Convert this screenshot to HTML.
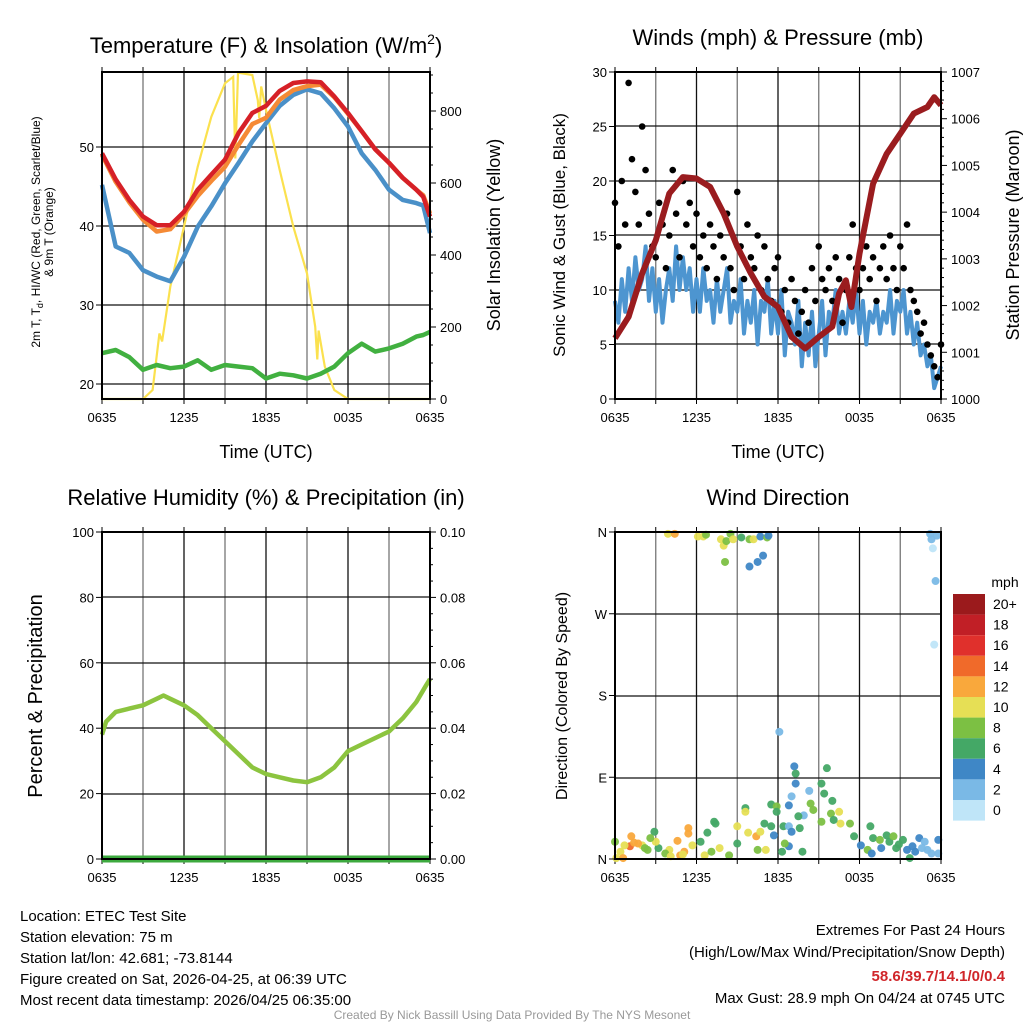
<!DOCTYPE html>
<html><head><meta charset="utf-8"><style>
html,body{margin:0;padding:0;background:#fff;}
svg{display:block;font-family:"Liberation Sans",sans-serif;}
</style></head><body>
<svg id="s" width="1024" height="1024" viewBox="0 0 1024 1024" xmlns="http://www.w3.org/2000/svg">
<rect width="1024" height="1024" fill="#fff"/>
<g id="g1"></g>
<g id="g2"></g>
<g id="g3"></g>
<g id="g4"></g>
<text x="266" y="53" font-size="22" text-anchor="middle">Temperature (F) &amp; Insolation (W/m<tspan font-size="14" dy="-9">2</tspan><tspan dy="9">)</tspan></text>
<text x="778" y="45" font-size="22" text-anchor="middle">Winds (mph) &amp; Pressure (mb)</text>
<text x="266" y="505" font-size="22" text-anchor="middle">Relative Humidity (%) &amp; Precipitation (in)</text>
<text x="778" y="505" font-size="22" text-anchor="middle">Wind Direction</text>
<g font-size="18" text-anchor="middle">
<text x="266" y="458">Time (UTC)</text>
<text x="778" y="458">Time (UTC)</text>
</g>
<text transform="translate(40,232) rotate(-90)" font-size="12" text-anchor="middle"><tspan x="0" dy="0">2m T, T<tspan font-size="9" dy="3">d</tspan><tspan dy="-3">, HI/WC (Red, Green, Scarlet/Blue)</tspan></tspan><tspan x="0" dy="13">&amp; 9m T (Orange)</tspan></text>
<text transform="translate(500,235) rotate(-90)" font-size="18" text-anchor="middle">Solar Insolation (Yellow)</text>
<text transform="translate(565,235) rotate(-90)" font-size="17" text-anchor="middle">Sonic Wind &amp; Gust (Blue, Black)</text>
<text transform="translate(1019,235) rotate(-90)" font-size="18" text-anchor="middle">Station Pressure (Maroon)</text>
<text transform="translate(42,696) rotate(-90)" font-size="20" text-anchor="middle">Percent &amp; Precipitation</text>
<text transform="translate(567,696) rotate(-90)" font-size="16" text-anchor="middle">Direction (Colored By Speed)</text>
<g font-size="15">
<text x="20" y="921">Location: ETEC Test Site</text>
<text x="20" y="942">Station elevation: 75 m</text>
<text x="20" y="963">Station lat/lon: 42.681; -73.8144</text>
<text x="20" y="984">Figure created on Sat, 2026-04-25, at 06:39 UTC</text>
<text x="20" y="1005">Most recent data timestamp: 2026/04/25 06:35:00</text>
</g>
<g font-size="15" text-anchor="end">
<text x="1005" y="935">Extremes For Past 24 Hours</text>
<text x="1005" y="957">(High/Low/Max Wind/Precipitation/Snow Depth)</text>
<text x="1005" y="981" fill="#d0262a" font-weight="bold">58.6/39.7/14.1/0/0.4</text>
<text x="1005" y="1003">Max Gust: 28.9 mph On 04/24 at 0745 UTC</text>
</g>
<text x="512" y="1019" font-size="12" fill="#999" text-anchor="middle">Created By Nick Bassill Using Data Provided By The NYS Mesonet</text>
</svg>
<script>
// ---- data ----
const hours = [0,1,2,3,4,5,6,7,8,9,10,11,12,13,14,15,16,17,18,19,20,21,22,23,23.5,24];
const tempRed = [49.2,45.9,43.3,41.2,40.1,40.1,41.8,44.6,46.5,48.4,51.8,54.3,55.2,57.1,58.1,58.3,58.2,56.4,54.3,52.0,49.7,48.0,46.1,44.6,43.7,41.2];
const tempOrange = [49.0,45.6,43.0,40.8,39.3,39.6,41.5,43.8,45.7,47.5,50.3,52.9,53.7,56.0,57.2,57.7,57.9,56.3,54.2,52.0,49.7,48.0,46.1,44.6,43.9,41.6];
const tempBlue = [45.2,37.4,36.6,34.4,33.6,33.0,36.1,39.9,42.5,45.4,48.0,50.7,53.0,55.2,56.6,57.3,56.8,54.9,52.6,49.2,47.1,44.6,43.3,42.9,42.6,39.1];
const dewGreen = [23.9,24.3,23.4,21.8,22.4,22.0,22.2,23.0,21.8,22.4,22.2,22.0,20.7,21.3,21.1,20.7,21.3,22.2,23.9,25.1,24.1,24.5,25.1,26.0,26.2,26.6];
const solarHours = [0,3,3.7,4.2,4.4,5,6,7,8,9,9.6,9.75,9.95,10,11,11.4,11.5,11.65,12,13,14,15,15.6,15.75,15.85,16.3,17,18,24];
const solarVals = [0,0,25,182,160,312,479,645,784,877,895,668,905,906,900,830,780,868,803,636,479,349,201,110,190,90,25,0,0];
const windSpeed = [9,7,11,8,12,9,13,10,11,14,9,12,8,11,7,10,12,9,14,10,13,10,12,8,11,8,12,9,10,7,11,8,10,12,7,9,8,11,6,9,7,10,5,9,8,11,6,9,6,10,4,8,7,5,9,3,7,4,8,3,6,9,4,8,7,10,6,8,6,9,7,10,6,9,5,8,7,9,6,8,7,10,6,9,8,10,6,8,5,7,4,5,3,4,1,2,3];
const pressHours = [0,1,2,3,4,5,6,7,8,9,10,11,12,13,14,15,16,16.5,17,17.4,18,19,20,21,22,23,23.5,24];
const pressure = [1001.30,1001.76,1002.69,1003.40,1004.40,1004.75,1004.72,1004.54,1003.97,1003.26,1002.69,1002.19,1001.97,1001.33,1001.08,1001.33,1001.55,1002.26,1002.54,1001.97,1003.11,1004.61,1005.25,1005.68,1006.11,1006.25,1006.46,1006.29];
const gusts = [18,14,20,16,29,22,19,16,25,21,17,14,13,18,16,12,15,21,17,13,20,16,18,14,17,13,15,12,16,14,11,15,13,17,12,10,19,14,11,16,13,12,15,10,14,11,9,12,13,8,10,7,11,9,6,8,10,7,12,9,14,11,10,12,9,13,11,7,10,13,16,12,10,12,14,11,13,9,12,14,11,15,12,10,14,12,16,10,9,8,6,7,5,4,3,2,5];
const rhHours = [0,0.3,1,2,3,4,4.5,5,6,7,8,9,10,11,12,13,14,15,16,17,18,19,20,21,22,23,23.7,24];
const rhVals = [38,42,45,46,47,49,50,49,47,44,40,36,32,28,26,25,24,23.5,25,28,33,35,37,39,43,48,53,55];
const precipHours = [0,24];
const precipVals = [0,0];
const dirHours = [3.9,4.4,6.1,6.5,6.7,7.8,8.0,8.2,8.1,8.5,8.7,9.3,9.9,10.2,9.9,10.5,10.9,10.7,11.2,11.3,23.2,23.3,23.4,23.6,23.5,23.7,12.1,13.2,13.3,13.3,14.3,15.6,15.2,15.4,16.0,13.0,12.8,11.5,11.9,11.9,14.4,9.6,9.6,16.5,15.9,13.9,13.5,14.6,16.6,17.3,16.1,15.2,7.3,7.4,9.0,9.8,10.4,10.7,11.0,11.5,11.7,12.4,12.8,13.0,13.6,5.4,5.4,6.8,6.3,5.7,5.1,4.8,4.0,3.7,3.2,2.9,3.0,2.6,2.0,1.7,1.2,1.1,0.7,0.4,0.1,0,0.6,2.2,4.1,6.6,7.1,7.7,8.4,9.0,10.5,11.1,12.3,12.8,12.5,13.8,17.6,18.1,18.6,18.8,19.0,19.5,20.0,20.2,20.5,20.7,21.2,21.5,21.7,22.1,22.4,22.8,23.0,23.3,23.8,23.8,19.6,18.9,1.4,2.4,4.6,5.0,20.9,21.9,22.6];
const dirVals = [358,358,355,355,357,352,345,350,327,358,352,354,352,352,322,327,334,355,354,356,358,352,342,306,236,356,140,102,94,83,75,100,83,72,64,69,59,60,58,52,61,56,52,52,50,48,47,54,39,39,43,41,41,39,36,29,25,30,39,36,26,36,36,30,34,34,28,29,19,15,8,4,10,6,12,30,19,23,15,17,25,14,15,8,1,19,1,12,3,4,8,12,4,17,10,10,8,14,17,8,25,15,10,36,23,21,26,19,25,12,21,10,1,8,23,19,10,6,21,6,12,6,18,10,20,5,16,14,12];
const dirSpeeds = [10,12,10,10,8,10,10,8,8,8,10,6,8,10,4,4,4,4,8,4,2,2,1,2,1,2,2,4,6,4,2,6,6,6,6,2,4,6,8,6,8,6,10,10,8,2,6,8,10,8,6,8,6,6,10,10,12,10,6,6,4,6,2,4,6,12,12,6,6,10,12,12,10,8,6,6,10,8,10,12,12,14,10,10,10,8,12,8,10,10,8,10,8,6,8,10,6,4,8,6,6,4,8,6,6,8,6,6,8,6,6,4,6,4,4,2,2,2,4,2,4,4,12,8,12,10,6,4,2];
const legendLabels = ["20+","18","16","14","12","10","8","6","4","2","0"];
const legendColors = ["#9b1a1c","#c11f26","#e0302c","#f06a2a","#f9a83c","#e6df55","#7cc043","#44a866","#3f87c6","#7ab9e6","#bfe5f8"];
const xTickHours = [0,6,12,18,24];
const xTickLabels = ["0635","1235","1835","0035","0635"];

// ---- helpers ----
const NS="http://www.w3.org/2000/svg";
function mk(parent,tag,attrs,txt){const e=document.createElementNS(NS,tag);for(const k in attrs)e.setAttribute(k,attrs[k]);if(txt!==undefined)e.textContent=txt;parent.appendChild(e);return e;}
function pathD(xs,ys,fx,fy){return xs.map((t,i)=>(i?"L":"M")+fx(t).toFixed(1)+","+fy(ys[i]).toFixed(1)).join("");}

function frame(g,x0,x1,y0,y1,hLines){
  for(let h=0;h<=24;h+=3){const x=x0+h*(x1-x0)/24;
    const l=mk(g,"line",{x1:x,x2:x,y1:y0,y2:y1,stroke:(h%6===0?"#111":"#777"),"stroke-width":1.3});
    
    
    const tk=mk(g,"line",{x1:x,x2:x,y1:y1,y2:y1+5,stroke:"#000","stroke-width":1});
    
    
    const tt=mk(g,"line",{x1:x,x2:x,y1:y0-5,y2:y0,stroke:"#000","stroke-width":1});
    
    
  }
  hLines.forEach(y=>{const l=mk(g,"line",{x1:x0,x2:x1,y1:y,y2:y,stroke:"#111","stroke-width":1.3});
    
    });
  xTickHours.forEach((h,i)=>{const t=mk(g,"text",{x:x0+h*(x1-x0)/24,y:y1+23,"font-size":13,"text-anchor":"middle"},xTickLabels[i]);
    
    });
}
function box(g,x0,x1,y0,y1){const r=mk(g,"rect",{x:x0,y:y0,width:x1-x0,height:y1-y0,fill:"none",stroke:"#000","stroke-width":2});
  
  }
function yTicks(g,vals,fy,x,side,labels,minor){
  vals.forEach((v,i)=>{const y=fy(v);
    const l=mk(g,"line",{x1:x,x2:x+(side<0?-6:6),y1:y,y2:y,stroke:"#000","stroke-width":1});
    
    
    const t=mk(g,"text",{x:x+(side<0?-8:10),y:y+5,"font-size":13,"text-anchor":(side<0?"end":"start")},labels[i]);
    
    });
  (minor||[]).forEach(v=>{const y=fy(v);const l=mk(g,"line",{x1:x,x2:x+(side<0?-3:3),y1:y,y2:y,stroke:"#000","stroke-width":1});
    
    });
}

// ---- panel 1 ----
const g1=document.getElementById("g1");
const X1=t=>102+t*328/24, YT=v=>384-(v-20)*7.9, YS=v=>399-v*0.36;
frame(g1,102,430,72,399,[147,226,305,384]);
const sp=mk(g1,"path",{d:pathD(solarHours,solarVals,X1,YS),fill:"none",stroke:"#fbe14e","stroke-width":2.2});


const gp=mk(g1,"path",{d:pathD(hours,dewGreen,X1,YT),fill:"none",stroke:"#41b040","stroke-width":4.5,"stroke-linejoin":"round"});


const bp=mk(g1,"path",{d:pathD(hours,tempBlue,X1,YT),fill:"none",stroke:"#4a90c8","stroke-width":4.5,"stroke-linejoin":"round"});


const op=mk(g1,"path",{d:pathD(hours,tempOrange,X1,YT),fill:"none",stroke:"#f58a35","stroke-width":4.5,"stroke-linejoin":"round"});


const rp=mk(g1,"path",{d:pathD(hours,tempRed,X1,YT),fill:"none",stroke:"#d62027","stroke-width":4.5,"stroke-linejoin":"round"});


box(g1,102,430,72,399);
yTicks(g1,[20,30,40,50],YT,102,-1,["20","30","40","50"]);
yTicks(g1,[0,200,400,600,800],YS,430,1,["0","200","400","600","800"],[50,100,150,250,300,350,450,500,550,650,700,750,850,900]);

// ---- panel 2 ----
const g2=document.getElementById("g2");
const X2=t=>615+t*326/24, YW=v=>399-v*327/30, YP=p=>399-(p-1000)*327/7;
frame(g2,615,941,72,399,[126,181,235,290,344]);
const windHours = windSpeed.map((v,i)=>i*0.25);
const wp=mk(g2,"path",{d:pathD(windHours,windSpeed,X2,YW),fill:"none",stroke:"#4d95d0","stroke-width":4,"stroke-linejoin":"round"});


gusts.forEach((v,i)=>{const c=mk(g2,"circle",{cx:X2(i*0.25),cy:YW(v),r:3.3,fill:"#000"});
  
  });
const pp=mk(g2,"path",{d:pathD(pressHours,pressure,X2,YP),fill:"none",stroke:"#9a1c1f","stroke-width":6,"stroke-linejoin":"round"});


box(g2,615,941,72,399);
yTicks(g2,[0,5,10,15,20,25,30],YW,615,-1,["0","5","10","15","20","25","30"]);
yTicks(g2,[1000,1001,1002,1003,1004,1005,1006,1007],YP,941,1,["1000","1001","1002","1003","1004","1005","1006","1007"],[1000.2,1000.4,1000.6,1000.8,1001.2,1001.4,1001.6,1001.8,1002.2,1002.4,1002.6,1002.8,1003.2,1003.4,1003.6,1003.8,1004.2,1004.4,1004.6,1004.8,1005.2,1005.4,1005.6,1005.8,1006.2,1006.4,1006.6,1006.8]);

// ---- panel 3 ----
const g3=document.getElementById("g3");
const YR=v=>859-v*3.27, YPr=v=>859-v*3270;
frame(g3,102,430,532,859,[597,663,728,794]);
const rh=mk(g3,"path",{d:pathD(rhHours,rhVals,X1,YR),fill:"none",stroke:"#8cc43f","stroke-width":4.5,"stroke-linejoin":"round"});


const pr=mk(g3,"path",{d:pathD(precipHours,precipVals,X1,YPr),fill:"none",stroke:"#3daa3f","stroke-width":7});


box(g3,102,430,532,859);
yTicks(g3,[0,20,40,60,80,100],YR,102,-1,["0","20","40","60","80","100"]);
yTicks(g3,[0,0.02,0.04,0.06,0.08,0.1],YPr,430,1,["0.00","0.02","0.04","0.06","0.08","0.10"],[0.005,0.01,0.015,0.025,0.03,0.035,0.045,0.05,0.055,0.065,0.07,0.075,0.085,0.09,0.095]);

// ---- panel 4 ----
const g4=document.getElementById("g4");
const YD=d=>859-d*327/360;
frame(g4,615,941,532,859,[614,696,778]);
function spdColor(s){let idx=Math.min(10,Math.floor(s/2));return legendColors[10-idx];}
dirHours.forEach((t,i)=>{const c=mk(g4,"circle",{cx:X2(t),cy:YD(dirVals[i]),r:4,fill:spdColor(dirSpeeds[i]),"fill-opacity":0.95});
  
  });
box(g4,615,941,532,859);
yTicks(g4,[0,90,180,270,360],YD,615,-1,["N","E","S","W","N"]);
// legend
const lt=mk(g4,"text",{x:1005,y:587,"font-size":14,"text-anchor":"middle"},"mph");


legendLabels.forEach((lab,i)=>{const y=594+i*20.6;
  const r=mk(g4,"rect",{x:953,y:y,width:32,height:20.6,fill:legendColors[i]});
  
  
  const t=mk(g4,"text",{x:993,y:y+15,"font-size":14},lab);
  
  });
</script>
</body></html>
